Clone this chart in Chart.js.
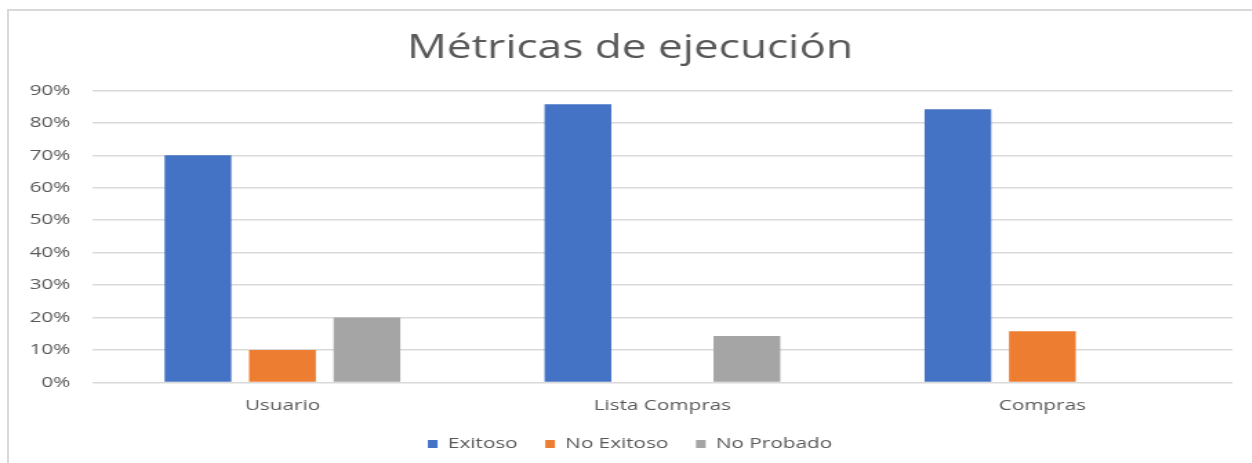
<!DOCTYPE html>
<html>
<head>
<meta charset="utf-8">
<script src="https://cdn.jsdelivr.net/npm/chart.js@4"></script>
<style>
  body { margin: 0; background: #fff; overflow: hidden; }
  #frame {
    position: absolute; left: 7px; top: 9px; width: 1245px; height: 454px;
    border-left: 2px solid #d9d9d9; border-top: 2px solid #d9d9d9;
  }
  /* chart is drawn narrower and stretched sideways, like the wide sheet it came from */
  #wrap {
    position: absolute; left: 0; top: 0; width: 940px; height: 463px;
    transform: scaleX(1.38); transform-origin: 0 0;
  }
</style>
</head>
<body>
<div id="frame"></div>
<div id="wrap"><canvas id="chart"></canvas></div>
<script>
const categories = ['Usuario', 'Lista Compras', 'Compras'];
const exitoso = [70, 85.7, 84.2];
const noExitoso = [10, 0, 15.8];
const noProbado = [20, 14.3, 0];

const textColor = '#595959';
const gridColor = '#d9d9d9';
const font = 'Open Sans';

new Chart(document.getElementById('chart'), {
  type: 'bar',
  data: {
    labels: categories,
    datasets: [
      { label: 'Exitoso', data: exitoso, backgroundColor: '#4472C4' },
      { label: 'No Exitoso', data: noExitoso, backgroundColor: '#ED7D31' },
      { label: 'No Probado', data: noProbado, backgroundColor: '#A5A5A5' }
    ]
  },
  options: {
    responsive: true,
    maintainAspectRatio: false,
    animation: false,
    categoryPercentage: 0.667,
    barPercentage: 0.79,
    layout: { padding: { left: 20, right: 47, top: 0, bottom: 1.5 } },
    plugins: {
      title: {
        display: true,
        text: 'Métricas de ejecución',
        color: textColor,
        font: { family: font, size: 32, weight: 'normal' },
        padding: { top: 30, bottom: 22 }
      },
      legend: {
        position: 'bottom',
        labels: {
          color: textColor,
          font: { family: font, size: 15 },
          boxWidth: 7,
          boxHeight: 8,
          padding: 20
        }
      },
      tooltip: { enabled: false }
    },
    scales: {
      x: {
        grid: { display: false, drawTicks: false },
        border: { display: false },
        ticks: { color: textColor, font: { family: font, size: 15 }, padding: 14 },
        afterFit: scale => { scale.height = 34; }
      },
      y: {
        min: 0,
        max: 90,
        grid: { color: gridColor, lineWidth: 1.5, drawTicks: false },
        border: { display: false },
        ticks: {
          stepSize: 10,
          color: textColor,
          font: { family: font, size: 15 },
          padding: 16,
          callback: v => v + '%'
        },
        afterFit: scale => { scale.width = 47; }
      }
    }
  }
});
</script>
</body>
</html>
